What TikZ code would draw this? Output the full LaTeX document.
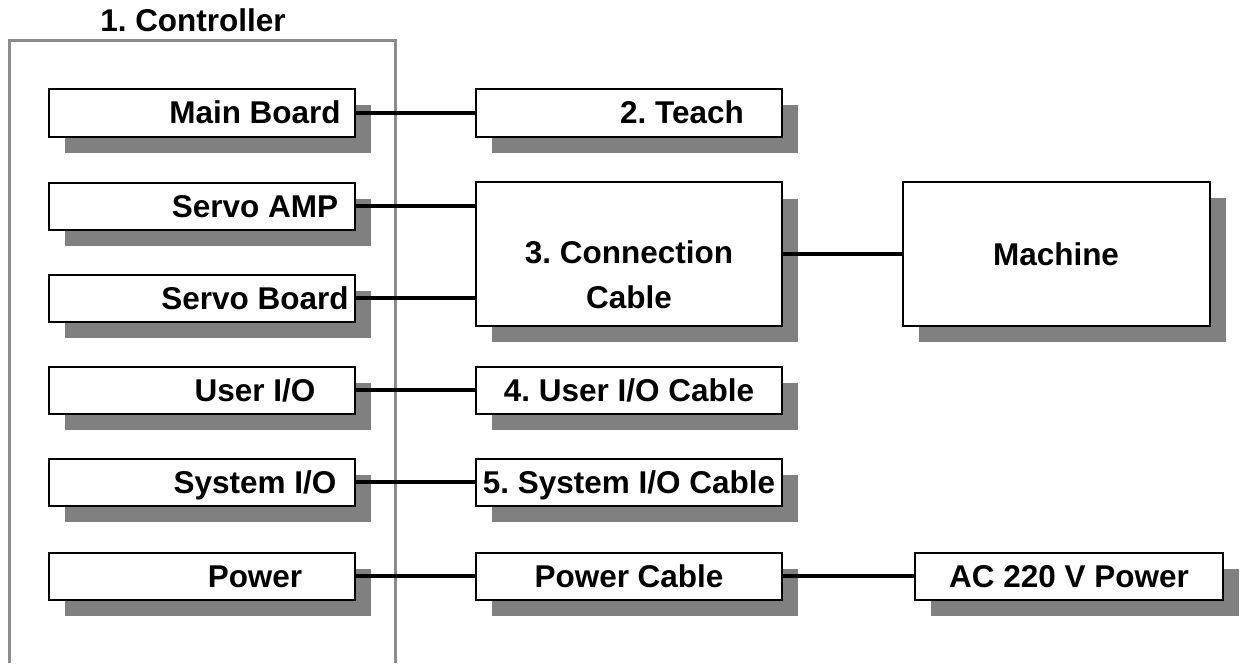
\documentclass[tikz,border=0pt]{standalone}
\usepackage{fontspec}
\setmainfont{Liberation Sans}
\usetikzlibrary{shadows,calc}
\frenchspacing
\tikzset{
  box/.style={draw=black,line width=1bp,fill=white,inner sep=0pt,
    drop shadow={shadow xshift=8bp,shadow yshift=-8bp,fill=black!50,opacity=1}},
  lbox/.style={box,minimum width=153bp,minimum height=23.5bp},
  lbl/.style={font=\fontsize{15.8}{22.5}\selectfont\bfseries,inner sep=0pt,text height=11bp,text depth=0pt},
  wire/.style={line width=1.6bp,black}
}
\begin{document}
\begin{tikzpicture}[x=0.5bp,y=-0.5bp]
\useasboundingbox (0,0) rectangle (1241,663);
% controller frame
\draw[black!45,line width=1.5bp] (9,663) -- (9,41) -- (395,41) -- (395,663);
\node[lbl] (ctrl) at (193,21) {1. Controller};
% boards inside the controller
\node[lbox] (mb) at (202,113) {};
\node[lbox] (sa) at (202,206) {};
\node[lbox] (sb) at (202,298) {};
\node[lbox] (ui) at (202,390) {};
\node[lbox] (si) at (202,482) {};
\node[lbox] (pw) at (202,576) {};
\node[lbl] (mbt) at ([xshift=26.5bp]mb.center) {Main Board};
\node[lbl] (sat) at ([xshift=26.5bp]sa.center) {Servo AMP};
\node[lbl] (sbt) at ([xshift=26.5bp]sb.center) {Servo Board};
\node[lbl] (uit) at ([xshift=26.5bp]ui.center) {User I/O};
\node[lbl] (sit) at ([xshift=26.5bp]si.center) {System I/O};
\node[lbl] (pwt) at ([xshift=26.5bp]pw.center) {Power};
% cables
\node[lbox] (teach) at (629,113) {};
\node[box,minimum width=153bp,minimum height=71.5bp] (cc) at (629,254) {};
\node[lbox] (uic) at (629,390) {};
\node[lbox] (sic) at (629,482) {};
\node[lbox] (pc) at (629,576) {};
\node[lbl] (teacht) at ([xshift=26.5bp]teach.center) {2. Teach};
\node[font=\fontsize{15.8}{22.5}\selectfont\bfseries,inner sep=0pt,align=center] (cct) at ([yshift=-10.5bp]cc.center) {3. Connection\\Cable};
\node[lbl] (uict) at (uic.center) {4. User I/O Cable};
\node[lbl] (sict) at (sic.center) {5. System I/O Cable};
\node[lbl] (pct) at (pc.center) {Power Cable};
% outside
\node[box,minimum width=153.5bp,minimum height=72bp] (mach) at (1056,254) {};
\node[lbox,minimum width=154bp] (ac) at (1069,576) {};
\node[lbl] (macht) at (mach.center) {Machine};
\node[lbl] (act) at (ac.center) {AC 220 V Power};
% wiring
\draw[wire] (mb.east) -- (teach.west);
\draw[wire] (sa.east) -- (sa.east -| cc.west);
\draw[wire] (sb.east) -- (sb.east -| cc.west);
\draw[wire] (cc.east) -- (mach.west);
\draw[wire] (ui.east) -- (uic.west);
\draw[wire] (si.east) -- (sic.west);
\draw[wire] (pw.east) -- (pc.west);
\draw[wire] (pc.east) -- (ac.west);
\end{tikzpicture}
\end{document}
